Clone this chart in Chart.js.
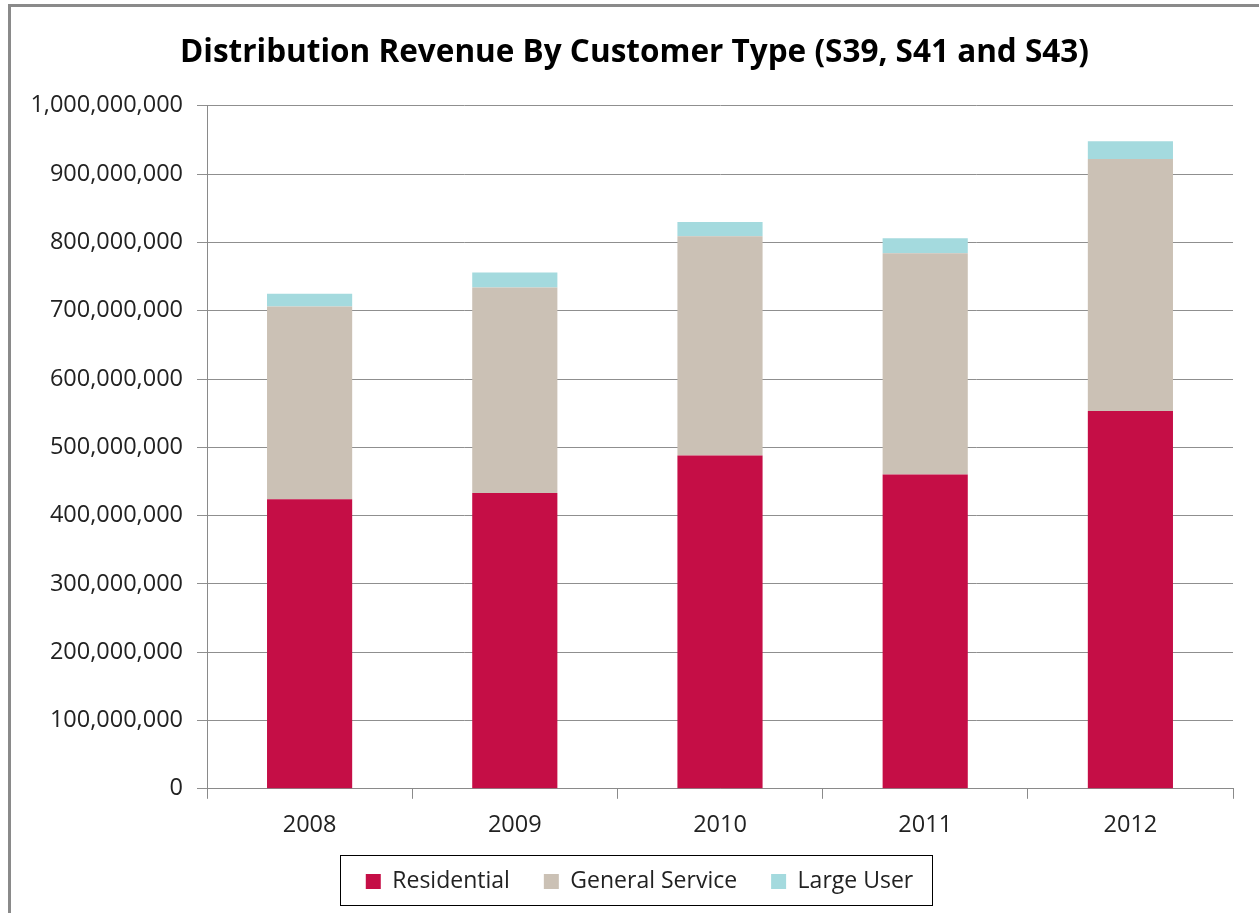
<!DOCTYPE html>
<html>
<head>
<meta charset="utf-8">
<script src="https://cdn.jsdelivr.net/npm/chart.js@4.4.1/dist/chart.umd.min.js"></script>
<style>
  html, body { margin: 0; padding: 0; background: #fff; }
  #wrap { position: relative; width: 1259px; height: 913px; }
  #frame { position: absolute; left: 8px; top: 4px; right: 0; bottom: 0;
           border-top: 3px solid #8a8a8a; border-left: 3px solid #8a8a8a; pointer-events: none; }
</style>
</head>
<body>
<div id="wrap">
  <canvas id="myChart" width="1259" height="913"></canvas>
  <div id="frame"></div>
</div>
<script>
const years = ['2008', '2009', '2010', '2011', '2012'];

// revenue in dollars
const residential = [424000000, 433000000, 488000000, 460000000, 553000000];
const generalService = [282000000, 301000000, 321000000, 324000000, 369000000];
const largeUser = [19000000, 22000000, 21000000, 22000000, 26000000];

const yTicks = [0, 100000000, 200000000, 300000000, 400000000, 500000000,
  600000000, 700000000, 800000000, 900000000, 1000000000];

const fontFam = "'Open Sans', Lato, sans-serif";

// nudge title + legend so they sit like the original, and box the legend
const legendBox = {
  id: 'legendBox',
  afterLayout(chart) {
    const lg = chart.legend;
    lg.left += 18; lg.right += 18;
    lg.top -= 7; lg.bottom -= 7;
    const tb = chart.titleBlock;
    tb.left += 13; tb.right += 13;
  },
  afterDraw(chart) {
    const c = chart.ctx;
    c.save();
    c.strokeStyle = '#000';
    c.lineWidth = 1;
    c.strokeRect(340.5, 855.5, 592, 50);
    c.restore();
  }
};

const ctx = document.getElementById('myChart').getContext('2d');
const revenueChart = new Chart(ctx, {
  type: 'bar',
  data: {
    labels: years,
    datasets: [{
      label: 'Residential',
      data: residential,
      backgroundColor: '#C50E46'
    }, {
      label: 'General Service',
      data: generalService,
      backgroundColor: '#CBC1B5'
    }, {
      label: 'Large User',
      data: largeUser,
      backgroundColor: '#A4DADE'
    }]
  },
  options: {
    responsive: false,
    animation: false,
    layout: { padding: { left: 10, right: 26, top: 20, bottom: 3 } },
    datasets: {
      bar: { categoryPercentage: 1.0, barPercentage: 0.415 }
    },
    plugins: {
      title: {
        display: true,
        text: 'Distribution Revenue By Customer Type (S39, S41 and S43)',
        color: '#000',
        font: { family: fontFam, size: 31.5, weight: 'bold' },
        padding: { top: 14, bottom: 34 }
      },
      legend: {
        position: 'bottom',
        labels: {
          color: '#222',
          font: { family: fontFam, size: 23 },
          boxWidth: 15,
          boxHeight: 15,
          padding: 34
        }
      },
      tooltip: { enabled: false }
    },
    scales: {
      x: {
        stacked: true,
        afterFit: (scale) => { scale.height -= 8; },
        grid: { display: true, drawOnChartArea: false, color: '#8a8a8a', tickLength: 10, offset: true },
        border: { color: '#8a8a8a' },
        ticks: { color: '#222', font: { family: fontFam, size: 23.5 }, padding: 12 }
      },
      y: {
        stacked: true,
        min: 0,
        max: 1000000000,
        afterFit: (scale) => { scale.width = 197; },
        afterBuildTicks: (scale) => { scale.ticks = yTicks.map(v => ({ value: v })); },
        grid: { color: '#8f8f8f', tickLength: 10 },
        border: { color: '#8a8a8a' },
        ticks: {
          color: '#222',
          font: { family: fontFam, size: 23.5 },
          padding: 14,
          callback: (v) => Number(v).toLocaleString('en-US')
        }
      }
    }
  },
  plugins: [legendBox]
});
</script>
</body>
</html>
